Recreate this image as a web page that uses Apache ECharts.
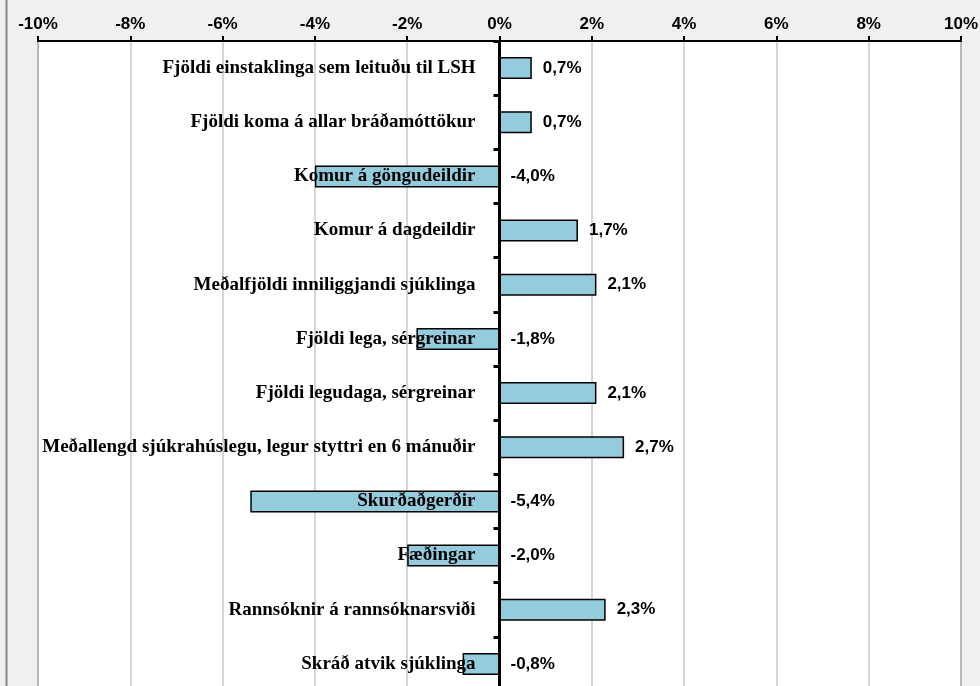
<!DOCTYPE html>
<html>
<head>
<meta charset="utf-8">
<script src="https://cdn.jsdelivr.net/npm/echarts@6/dist/echarts.min.js"></script>
<style>
  html, body { margin: 0; padding: 0; background: #f0f0f0; }
  #chart { width: 980px; height: 686px; }
</style>
</head>
<body>
<div id="chart"></div>
<script>
// flokkar, efst til neðst
var categories = [
  'Fjöldi einstaklinga sem leituðu til LSH',
  'Fjöldi koma á allar bráðamóttökur',
  'Komur á göngudeildir',
  'Komur á dagdeildir',
  'Meðalfjöldi inniliggjandi sjúklinga',
  'Fjöldi lega, sérgreinar',
  'Fjöldi legudaga, sérgreinar',
  'Meðallengd sjúkrahúslegu, legur styttri en 6 mánuðir',
  'Skurðaðgerðir',
  'Fæðingar',
  'Rannsóknir á rannsóknarsviði',
  'Skráð atvik sjúklinga'
];
// breyting í %
var changes = [0.7, 0.7, -4.0, 1.7, 2.1, -1.8, 2.1, 2.7, -5.4, -2.0, 2.3, -0.8];
var axisMin = -10, axisMax = 10, axisStep = 2;

var gridLeft = 38, gridWidth = 923;
// textinn á að enda rétt vinstra megin við 0-ásinn
var zeroX = gridLeft + gridWidth * (0 - axisMin) / (axisMax - axisMin);

var chart = echarts.init(document.getElementById('chart'));

var options = {
  backgroundColor: '#f0f0f0',
  animation: false,
  graphic: [
    {
      type: 'line',
      shape: { x1: 6.5, y1: 0, x2: 6.5, y2: 686 },
      style: { stroke: '#888888', lineWidth: 2 }
    }
  ],
  grid: {
    left: gridLeft,
    width: gridWidth,
    top: 41,
    height: 650,
    containLabel: false,
    outerBoundsMode: 'none',
    show: true,
    backgroundColor: '#ffffff',
    borderColor: '#888888',
    borderWidth: 2
  },
  xAxis: {
    type: 'value',
    position: 'top',
    min: axisMin,
    max: axisMax,
    interval: axisStep,
    axisLine: { show: true, lineStyle: { color: '#000', width: 2 } },
    axisTick: { show: true, length: 5, lineStyle: { color: '#000', width: 2 } },
    axisLabel: {
      margin: 8,
      color: '#000',
      fontFamily: 'Liberation Sans',
      fontWeight: 'bold',
      fontSize: 17,
      formatter: '{value}%'
    },
    splitLine: { show: true, lineStyle: { color: '#c8c8c8', width: 1.5 } }
  },
  yAxis: {
    type: 'category',
    inverse: true,
    data: categories,
    z: 5,
    axisLine: { onZero: true, lineStyle: { color: '#000', width: 3 } },
    axisTick: { show: true, length: 6, lineStyle: { color: '#000', width: 3 } },
    axisLabel: {
      margin: -(zeroX - gridLeft - 24),
      align: 'right',
      color: '#000',
      fontFamily: 'Liberation Serif',
      fontWeight: 'bold',
      fontSize: 19
    },
    splitLine: { show: false }
  },
  series: [
    {
      type: 'bar',
      data: changes,
      barWidth: 22,
      itemStyle: { color: '#93cddd', borderColor: '#000', borderWidth: 1.5 },
      label: {
        show: true,
        position: 'right',
        distance: 11,
        color: '#000',
        fontFamily: 'Liberation Sans',
        fontWeight: 'bold',
        fontSize: 17,
        formatter: function (p) {
          return p.value.toFixed(1).replace('.', ',') + '%';
        }
      }
    }
  ]
};

chart.setOption(options);
</script>
</body>
</html>
